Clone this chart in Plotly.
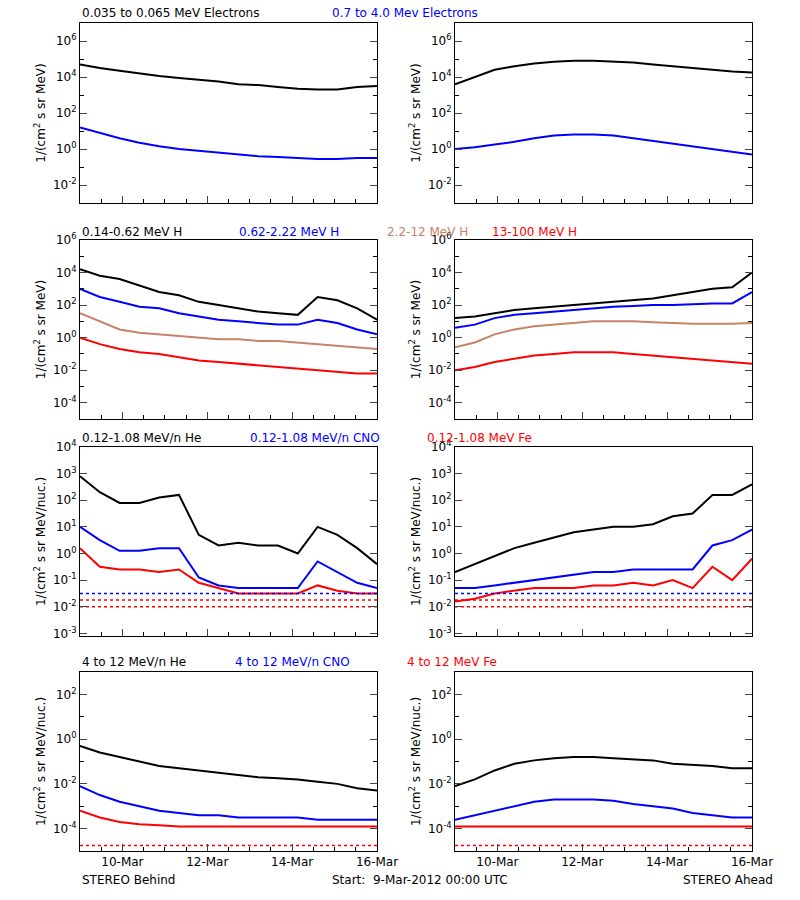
import pandas as pd
import plotly.graph_objects as go
from plotly.subplots import make_subplots

# 16 samples spanning 9-Mar-2012 00:00 .. 16-Mar-2012 00:00
times = pd.date_range("2012-03-09 00:00", "2012-03-16 00:00", periods=16)

# log10 intensities
beh_e_low = [4.7,4.5,4.35,4.2,4.05,3.95,3.85,3.75,3.6,3.55,3.45,3.35,3.3,3.3,3.45,3.5]
beh_e_high = [1.2,0.9,0.6,0.35,0.15,0.0,-0.1,-0.2,-0.3,-0.4,-0.45,-0.5,-0.55,-0.55,-0.5,-0.5]
ahd_e_low = [3.6,4.0,4.4,4.6,4.75,4.85,4.9,4.9,4.85,4.8,4.7,4.6,4.5,4.4,4.3,4.25]
ahd_e_high = [0.0,0.1,0.25,0.4,0.6,0.75,0.8,0.8,0.75,0.6,0.45,0.3,0.15,0.0,-0.15,-0.3]

beh_h1 = [4.2,3.8,3.6,3.2,2.8,2.6,2.2,2.0,1.8,1.6,1.5,1.4,2.5,2.3,1.8,1.1]
beh_h2 = [3.0,2.5,2.2,1.9,1.8,1.5,1.3,1.1,1.0,0.9,0.8,0.8,1.1,0.9,0.5,0.2]
beh_h3 = [1.5,1.0,0.5,0.3,0.2,0.1,0.0,-0.1,-0.1,-0.2,-0.2,-0.3,-0.4,-0.5,-0.6,-0.7]
beh_h4 = [0.0,-0.4,-0.7,-0.9,-1.0,-1.2,-1.4,-1.5,-1.6,-1.7,-1.8,-1.9,-2.0,-2.1,-2.2,-2.2]
ahd_h1 = [1.2,1.3,1.5,1.7,1.8,1.9,2.0,2.1,2.2,2.3,2.4,2.6,2.8,3.0,3.1,4.0]
ahd_h2 = [0.6,0.8,1.2,1.4,1.5,1.6,1.7,1.8,1.9,1.95,2.0,2.0,2.05,2.1,2.1,2.8]
ahd_h3 = [-0.6,-0.3,0.2,0.5,0.7,0.8,0.9,1.0,1.0,1.0,0.95,0.9,0.85,0.85,0.85,0.9]
ahd_h4 = [-2.0,-1.8,-1.5,-1.3,-1.1,-1.0,-0.9,-0.9,-0.9,-1.0,-1.1,-1.2,-1.3,-1.4,-1.5,-1.6]

beh_lo_he = [2.9,2.3,1.9,1.9,2.1,2.2,0.7,0.3,0.4,0.3,0.3,0.0,1.0,0.7,0.2,-0.4]
beh_lo_cno = [1.0,0.5,0.1,0.1,0.2,0.2,-0.9,-1.2,-1.3,-1.3,-1.3,-1.3,-0.3,-0.7,-1.1,-1.3]
beh_lo_fe = [0.2,-0.5,-0.6,-0.6,-0.7,-0.6,-1.1,-1.3,-1.5,-1.5,-1.5,-1.5,-1.2,-1.4,-1.5,-1.5]
ahd_lo_he = [-0.7,-0.4,-0.1,0.2,0.4,0.6,0.8,0.9,1.0,1.0,1.1,1.4,1.5,2.2,2.2,2.6]
ahd_lo_cno = [-1.3,-1.3,-1.2,-1.1,-1.0,-0.9,-0.8,-0.7,-0.7,-0.6,-0.6,-0.6,-0.6,0.3,0.5,0.9]
ahd_lo_fe = [-1.8,-1.7,-1.5,-1.4,-1.3,-1.3,-1.3,-1.2,-1.2,-1.1,-1.2,-1.0,-1.3,-0.5,-1.0,-0.2]
lo_floor_cno = [-1.5]
lo_floor_fe = [-1.75, -2.0]

beh_hi_he = [-0.3,-0.6,-0.8,-1.0,-1.2,-1.3,-1.4,-1.5,-1.6,-1.7,-1.75,-1.8,-1.9,-2.0,-2.2,-2.3]
beh_hi_cno = [-2.1,-2.5,-2.8,-3.0,-3.2,-3.3,-3.4,-3.4,-3.5,-3.5,-3.5,-3.5,-3.6,-3.6,-3.6,-3.6]
beh_hi_fe = [-3.2,-3.5,-3.7,-3.8,-3.85,-3.9,-3.9,-3.9,-3.9,-3.9,-3.9,-3.9,-3.9,-3.9,-3.9,-3.9]
ahd_hi_he = [-2.1,-1.8,-1.4,-1.1,-0.95,-0.85,-0.8,-0.8,-0.85,-0.9,-0.95,-1.1,-1.15,-1.2,-1.3,-1.3]
ahd_hi_cno = [-3.6,-3.4,-3.2,-3.0,-2.8,-2.7,-2.7,-2.7,-2.75,-2.9,-3.0,-3.1,-3.3,-3.4,-3.5,-3.5]
ahd_hi_fe = [-3.9]*16
hi_floor_fe = [-4.75]

BLACK, BLUE, BROWN, RED = "#000000", "#0000ff", "#c8826a", "#ff0000"
W, H = 800, 900
xcols = [(80, 377), (455, 752)]
rows = [(23, 203), (240, 419), (447, 636), (672, 851)]
yranges = [(-3, 7), (-5, 6), (-3.1, 4.0), (-5, 3)]
yticks = [[-2, 0, 2, 4, 6], [-4, -2, 0, 2, 4, 6], [-3, -2, -1, 0, 1, 2, 3, 4], [-4, -2, 0, 2]]
yminor = [[-3, -1, 1, 3, 5, 7], [-5, -3, -1, 1, 3, 5], [], [-5, -3, -1, 1, 3]]
ytitles = ["1/(cm<sup>2</sup> s sr MeV)"] * 2 + ["1/(cm<sup>2</sup> s sr MeV/nuc.)"] * 2

panels = [
    [[(beh_e_low, BLACK), (beh_e_high, BLUE)], [(ahd_e_low, BLACK), (ahd_e_high, BLUE)]],
    [[(beh_h1, BLACK), (beh_h2, BLUE), (beh_h3, BROWN), (beh_h4, RED)],
     [(ahd_h1, BLACK), (ahd_h2, BLUE), (ahd_h3, BROWN), (ahd_h4, RED)]],
    [[(beh_lo_he, BLACK), (beh_lo_cno, BLUE), (beh_lo_fe, RED)],
     [(ahd_lo_he, BLACK), (ahd_lo_cno, BLUE), (ahd_lo_fe, RED)]],
    [[(beh_hi_he, BLACK), (beh_hi_cno, BLUE), (beh_hi_fe, RED)],
     [(ahd_hi_he, BLACK), (ahd_hi_cno, BLUE), (ahd_hi_fe, RED)]],
]
floors = {2: [(lo_floor_cno, BLUE), (lo_floor_fe, RED)], 3: [(hi_floor_fe, RED)]}

fig = make_subplots(rows=4, cols=2)
FONT = dict(family="DejaVu Sans", size=12, color="black")
xr = ["2012-03-09 00:00", "2012-03-16 00:00"]

for r in range(4):
    for c in range(2):
        for vals, col in panels[r][c]:
            fig.add_trace(go.Scatter(x=times, y=[10 ** v for v in vals], mode="lines",
                                     line=dict(color=col, width=2), showlegend=False), row=r + 1, col=c + 1)
        for lv, col in floors.get(r, []):
            for v in lv:
                fig.add_trace(go.Scatter(x=[times[0], times[-1]], y=[10 ** v] * 2, mode="lines",
                                         line=dict(color=col, width=1.5, dash="dot"), showlegend=False),
                              row=r + 1, col=c + 1)
        x0, x1 = xcols[c]
        y0, y1 = rows[r]
        fig.update_xaxes(domain=[x0 / W, x1 / W], range=xr, tick0="2012-03-10", dtick=2 * 86400000,
                         tickformat="%d-%b", ticks="inside", ticklen=7, mirror=True, showline=True,
                         linecolor="black", showgrid=False, showticklabels=(r == 3), tickfont=FONT,
                         automargin=False,
                         minor=dict(dtick=43200000, ticks="inside", ticklen=4, tickcolor="black"),
                         row=r + 1, col=c + 1)
        fig.update_yaxes(domain=[1 - y1 / H, 1 - y0 / H], type="log", range=list(yranges[r]),
                         tickvals=[10 ** t for t in yticks[r]],
                         ticktext=[f"10<sup>{t}</sup>" for t in yticks[r]],
                         ticks="inside", ticklen=7, mirror="ticks", showline=True, linecolor="black",
                         showgrid=False, zeroline=False, tickfont=FONT, automargin=False,
                         minor=dict(tickmode="array", tickvals=[10 ** t for t in yminor[r]],
                                    ticks="inside", ticklen=4, tickcolor="black"),
                         title=dict(text=ytitles[r], font=FONT, standoff=4),
                         row=r + 1, col=c + 1)

labels = [
    (13, [("0.035 to 0.065 MeV Electrons", 80, BLACK), ("0.7 to 4.0 Mev Electrons", 330, BLUE)]),
    (232, [("0.14-0.62 MeV H", 80, BLACK), ("0.62-2.22 MeV H", 237, BLUE),
           ("2.2-12 MeV H", 385, BROWN), ("13-100 MeV H", 490, RED)]),
    (438, [("0.12-1.08 MeV/n He", 80, BLACK), ("0.12-1.08 MeV/n CNO", 248, BLUE),
           ("0.12-1.08 MeV Fe", 425, RED)]),
    (662, [("4 to 12 MeV/n He", 80, BLACK), ("4 to 12 MeV/n CNO", 233, BLUE),
           ("4 to 12 MeV Fe", 405, RED)]),
]
ann = []
for yy, items in labels:
    for txt, xx, col in items:
        ann.append(dict(text=txt, x=xx / W, y=1 - yy / H, xref="paper", yref="paper", xanchor="left",
                        yanchor="middle", showarrow=False, font=dict(FONT, color=col)))
ann.append(dict(text="STEREO Behind", x=80 / W, y=1 - 880 / H, xref="paper", yref="paper",
                xanchor="left", yanchor="middle", showarrow=False, font=FONT))
ann.append(dict(text="Start:  9-Mar-2012 00:00 UTC", x=420 / W, y=1 - 880 / H, xref="paper", yref="paper",
                xanchor="center", yanchor="middle", showarrow=False, font=FONT))
ann.append(dict(text="STEREO Ahead", x=775 / W, y=1 - 880 / H, xref="paper", yref="paper",
                xanchor="right", yanchor="middle", showarrow=False, font=FONT))

fig.update_layout(width=W, height=H, margin=dict(l=0, r=0, t=0, b=0, pad=0, autoexpand=False),
                  plot_bgcolor="white", paper_bgcolor="white", annotations=ann, font=FONT)
fig.write_html("out.html", config={"displayModeBar": False},
               post_script="document.body.style.margin='0px';document.body.style.overflow='hidden';")
